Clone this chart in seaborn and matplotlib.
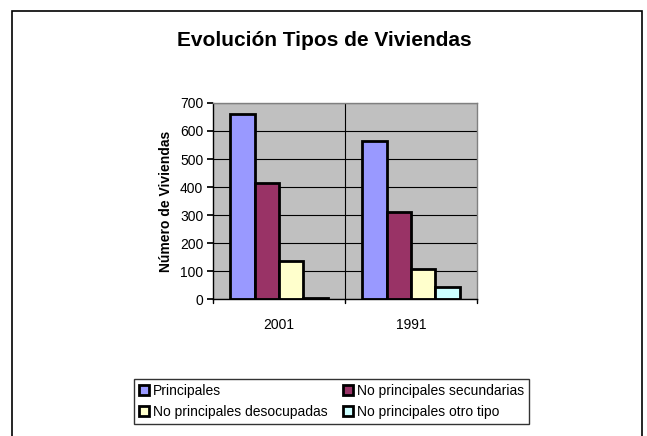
import matplotlib
matplotlib.use("Agg")
import matplotlib.pyplot as plt
import seaborn as sns
import pandas as pd
from matplotlib.patches import Patch, Rectangle

years = ["2001", "1991"]
series = ["Principales", "No principales secundarias",
          "No principales desocupadas", "No principales otro tipo"]
principales = [660, 565]
secundarias = [413, 312]
desocupadas = [136, 107]
otro_tipo = [5, 43]
colors = ["#9999FF", "#993366", "#FFFFCC", "#CCFFFF"]
yticks = [0, 100, 200, 300, 400, 500, 600, 700]

rows = []
for name, vals in zip(series, [principales, secundarias, desocupadas, otro_tipo]):
    for y, v in zip(years, vals):
        rows.append({"Año": y, "Tipo": name, "Viviendas": v})
df = pd.DataFrame(rows)

sns.set_theme(style="white")
plt.rcParams["font.family"] = ["Liberation Sans", "DejaVu Sans"]
plt.rcParams["text.color"] = "black"
plt.rcParams["axes.labelcolor"] = "black"
plt.rcParams["xtick.color"] = "black"
plt.rcParams["ytick.color"] = "black"

fig = plt.figure(figsize=(6.47, 4.36), dpi=100)
ax = fig.add_axes([213/647, 1-299/436, (477-213)/647, (299-103)/436])

sns.barplot(data=df, x="Año", y="Viviendas", hue="Tipo", hue_order=series,
            order=years, palette=colors, width=0.735, edgecolor="black",
            linewidth=2, saturation=1, ax=ax, legend=False)

ax.set_facecolor("#C0C0C0")
ax.set_ylim(0, 700)
ax.set_xlim(-0.5, 1.5)
ax.set_yticks(yticks)
ax.set_yticklabels([str(t) for t in yticks], fontsize=10)
ax.set_axisbelow(True)
ax.yaxis.grid(True, color="black", linewidth=0.8)
ax.axvline(0.5, color="black", linewidth=0.8, zorder=0.5)
ax.set_xlabel("")
ax.set_ylabel("Número de Viviendas", fontsize=10, fontweight="bold", labelpad=5)
ax.tick_params(axis="x", labelsize=10, length=0, pad=14)
ax.tick_params(axis="y", length=4, direction="out", color="black", left=True, pad=3)
for s in ["top", "right"]:
    ax.spines[s].set_color("#808080")
    ax.spines[s].set_linewidth(1)
for s in ["left", "bottom"]:
    ax.spines[s].set_color("black")
    ax.spines[s].set_linewidth(1)
for xb in [-0.5, 0.5, 1.5]:
    ax.plot([xb, xb], [0, -0.02], transform=ax.get_xaxis_transform(),
            color="black", linewidth=1, clip_on=False)

fig.text(324/647, 1-41/436, "Evolución Tipos de Viviendas", ha="center", va="center",
         fontsize=15, fontweight="bold", color="black")

order = [0, 2, 1, 3]
handles = [Patch(facecolor=colors[i], edgecolor="black", linewidth=2) for i in order]
labels = [series[i] for i in order]
leg = fig.legend(handles, labels, loc="lower left",
                 bbox_to_anchor=(134/647, 1-424/436, (529-134)/647, 50/436),
                 mode="expand", ncol=2, fontsize=10, frameon=True, fancybox=False,
                 handlelength=0.7, handleheight=0.7, handletextpad=0.3,
                 borderpad=0.35, labelspacing=0.55, columnspacing=1.0,
                 borderaxespad=0)
leg.get_frame().set_edgecolor("black")
leg.get_frame().set_linewidth(1)

fig.patches.append(Rectangle((12/647, -0.05), (642-12)/647, 1-11/436+0.05,
                             transform=fig.transFigure, fill=False,
                             edgecolor="black", linewidth=1.2))

fig.savefig("out.png", dpi=100)
